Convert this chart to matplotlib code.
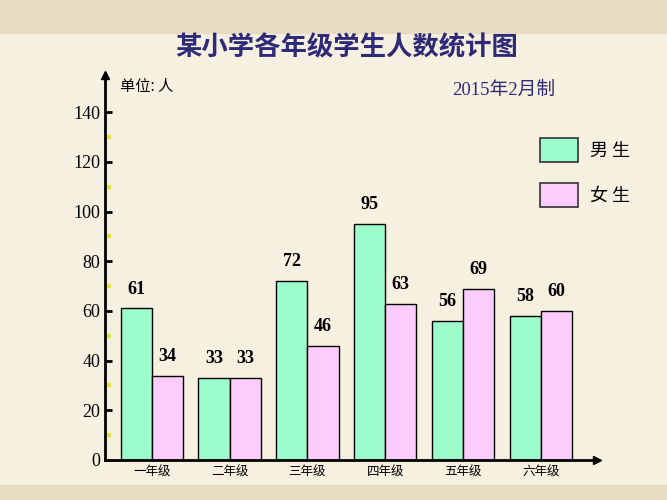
import matplotlib.pyplot as plt
import matplotlib.patches as mpatches
import numpy as np

plt.rcParams['font.family'] = ['Noto Sans CJK SC', 'DejaVu Sans']

grades = ['一年级', '二年级', '三年级', '四年级', '五年级', '六年级']
boys = [61, 33, 72, 95, 56, 58]
girls = [34, 33, 46, 63, 69, 60]
yticks = [0, 20, 40, 60, 80, 100, 120, 140]

green = '#9cfccc'
pink = '#fcccfc'
navy = '#2e2a78'
bg = '#f6f0e0'

fig = plt.figure(figsize=(6.67, 5), dpi=100, facecolor=bg)
# decorative bands top / bottom
fig.patches.append(mpatches.Rectangle((0, 0.935), 1, 0.065, transform=fig.transFigure,
                                      color='#e7dcc3', zorder=0))
fig.patches.append(mpatches.Rectangle((0, 0), 1, 0.03, transform=fig.transFigure,
                                      color='#e7dcc3', zorder=0))

ax = fig.add_axes([0.157, 0.08, 0.738, 0.77])
ax.set_facecolor('none')

x = np.arange(len(grades))
w = 0.4
b1 = ax.bar(x - w / 2, boys, w, color=green, edgecolor='black', linewidth=1)
b2 = ax.bar(x + w / 2, girls, w, color=pink, edgecolor='black', linewidth=1)

for rect, v in list(zip(b1, boys)) + list(zip(b2, girls)):
    ax.annotate(str(v), (rect.get_x() + rect.get_width() / 2, v), xytext=(0, 14),
                textcoords='offset points', ha='center', va='center',
                fontsize=13, fontweight='bold', family='Liberation Serif')

ax.set_xlim(-0.604, 5.72)
ax.set_ylim(0, 155)
for s in ['top', 'right']:
    ax.spines[s].set_visible(False)
for s in ['left', 'bottom']:
    ax.spines[s].set_linewidth(2)

ax.set_yticks(yticks)
ax.set_yticklabels([str(t) for t in yticks], family='Liberation Serif', fontsize=13)
ax.set_yticks(np.arange(10, 140, 20), minor=True)
ax.tick_params(axis='y', which='major', direction='in', length=5, width=2, pad=3)
ax.tick_params(axis='y', which='minor', direction='in', length=4, width=3, color='#e6e23a')
ax.set_xticks(x)
ax.set_xticklabels(grades, fontsize=9)
ax.tick_params(axis='x', length=0, pad=4)

# axis arrows
ax.plot(0, 1, marker='^', color='black', markersize=6, transform=ax.transAxes, clip_on=False)
ax.plot(1, 0, marker='>', color='black', markersize=6, transform=ax.transAxes, clip_on=False)

fig.text(0.52, 0.905, '某小学各年级学生人数统计图', ha='center', va='center',
         fontsize=19, color=navy, fontweight='bold')
fig.text(0.18, 0.826, '单位: 人', ha='left', va='center', fontsize=11)
fig.text(0.678, 0.82, '2015年2月制', ha='left', va='center', fontsize=13.5, color=navy,
         family=['Liberation Serif', 'Noto Sans CJK SC'])

# legend boxes
fig.patches.append(mpatches.Rectangle((0.81, 0.676), 0.057, 0.048, transform=fig.transFigure,
                                      facecolor=green, edgecolor='#333333', linewidth=1.2))
fig.patches.append(mpatches.Rectangle((0.81, 0.586), 0.057, 0.048, transform=fig.transFigure,
                                      facecolor=pink, edgecolor='#333333', linewidth=1.2))
fig.text(0.885, 0.698, '男 生', ha='left', va='center', fontsize=13)
fig.text(0.885, 0.608, '女 生', ha='left', va='center', fontsize=13)

plt.savefig('out.png', dpi=100, facecolor=bg)
